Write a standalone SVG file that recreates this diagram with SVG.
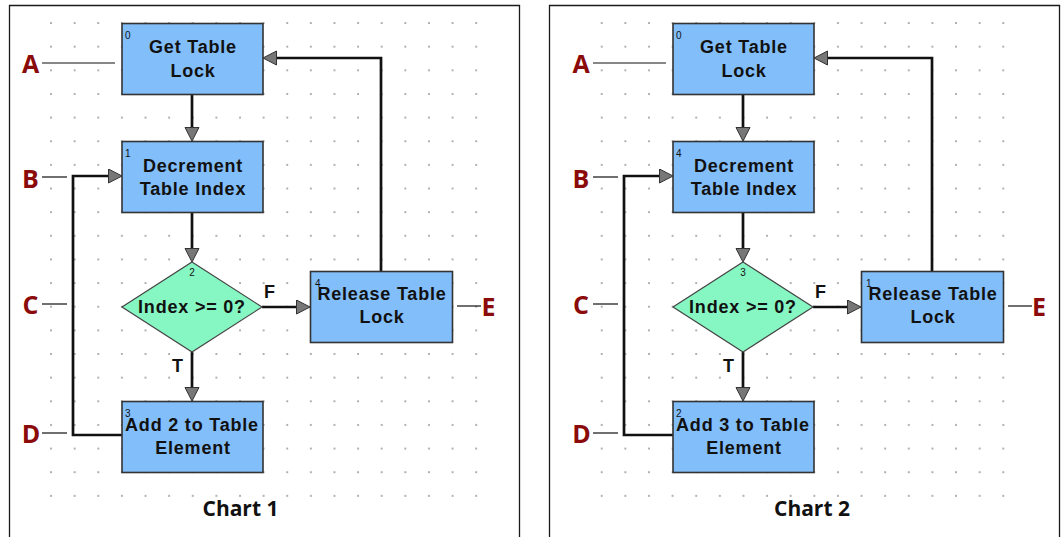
<svg xmlns="http://www.w3.org/2000/svg" width="1064" height="537" viewBox="0 0 1064 537">
<style>
.frame{fill:none;stroke:#1a1a1a;stroke-width:1.3}
.box{fill:#82BEFA;stroke:#333;stroke-width:1.6}
.dia{fill:#86F7C3;stroke:#444;stroke-width:1.2}
.nt{font-family:"Liberation Sans",Arial,sans-serif;font-weight:bold;font-size:18px;fill:#111;text-anchor:middle;letter-spacing:0.8px}
.num{font-family:"Liberation Sans",Arial,sans-serif;font-size:10px;fill:#111}
.tf{font-family:"Liberation Sans",Arial,sans-serif;font-weight:bold;font-size:18px;fill:#111}
.con{fill:none;stroke:#111;stroke-width:2.7;marker-end:url(#arr)}
.lab{font-family:"Open Sans","Noto Sans",sans-serif;font-weight:bold;font-size:25px;fill:#8B0A0A;text-anchor:middle}
.lead{stroke:#111;stroke-width:1.2}
.cap{font-family:"Open Sans","Noto Sans",sans-serif;font-weight:bold;font-size:21px;fill:#111;text-anchor:middle}
</style>
<defs>
<pattern id="dots1" patternUnits="userSpaceOnUse" x="39.2" y="11.2" width="23.62" height="23.64">
<rect x="11.1" y="11.1" width="1.5" height="1.5" fill="#777"/>
</pattern>
<pattern id="dots2" patternUnits="userSpaceOnUse" x="589.9" y="11.2" width="23.62" height="23.64">
<rect x="11.1" y="11.1" width="1.5" height="1.5" fill="#777"/>
</pattern>
<marker id="arr" markerUnits="userSpaceOnUse" markerWidth="16" markerHeight="17" refX="4" refY="7.5" orient="auto">
<path d="M0.5,0.5 L14,7.5 L0.5,14.5 Z" fill="#777" stroke="#333" stroke-width="1"/>
</marker>
</defs>
<rect width="1064" height="537" fill="#fff"/>
<!-- frames -->
<path class="frame" d="M9.5,540 V5.5 H519.5 V540"/>
<path class="frame" d="M549.5,540 V5.5 H1059.5 V540"/>
<!-- dot grids -->
<rect x="39.2" y="11.2" width="449" height="496" fill="url(#dots1)"/>
<rect x="589.9" y="11.2" width="425" height="496" fill="url(#dots2)"/>

<!-- Chart 1 connectors -->
<g id="connectors1">
<path class="con" d="M192,94 V131"/>
<path class="con" d="M192,212 V252"/>
<path class="con" d="M192,352 V391"/>
<path class="con" d="M262,307 H300"/>
<path class="con" d="M381,271 V58 H273"/>
<path class="con" d="M122,435 H73 V176 H112"/>
<text class="tf" x="172" y="372">T</text>
<text class="tf" x="264" y="298">F</text>
</g>
<g id="c1n0">
<rect class="box" x="122" y="23.5" width="141" height="71"/>
<text class="num" x="125" y="39">0</text>
<text class="nt" x="193" y="53">Get Table</text>
<text class="nt" x="193" y="77">Lock</text>
</g>
<g id="c1n1">
<rect class="box" x="122" y="141.5" width="141" height="71"/>
<text class="num" x="125" y="157">1</text>
<text class="nt" x="193" y="172">Decrement</text>
<text class="nt" x="193" y="195">Table Index</text>
</g>
<g id="c1n2">
<polygon class="dia" points="192,262 262,307 192,352 122,307"/>
<text class="num" x="192" y="276" text-anchor="middle">2</text>
<text class="nt" x="192" y="313">Index &gt;= 0?</text>
</g>
<g id="c1n3">
<rect class="box" x="122" y="401.5" width="141" height="71"/>
<text class="num" x="125" y="417">3</text>
<text class="nt" x="192" y="431">Add 2 to Table</text>
<text class="nt" x="193" y="454">Element</text>
</g>
<g id="c1n4">
<rect class="box" x="310.5" y="271.5" width="142" height="71"/>
<text class="num" x="315" y="287">4</text>
<text class="nt" x="382" y="300">Release Table</text>
<text class="nt" x="382" y="323">Lock</text>
</g>
<g id="c1labels">
<line class="lead" x1="42" y1="63" x2="115" y2="63"/>
<text class="lab" x="30.5" y="73">A</text>
<line class="lead" x1="42" y1="177" x2="67" y2="177"/>
<text class="lab" x="30.5" y="188">B</text>
<line class="lead" x1="42" y1="304" x2="67" y2="304"/>
<text class="lab" x="30.5" y="314">C</text>
<line class="lead" x1="42" y1="433" x2="67" y2="433"/>
<text class="lab" x="31" y="443">D</text>
<line class="lead" x1="457" y1="306" x2="481" y2="306"/>
<text class="lab" x="488.5" y="316">E</text>
<text class="cap" x="240.5" y="516">Chart 1</text>
</g>

<!-- Chart 2 -->
<g id="connectors2">
<path class="con" d="M743,94 V131"/>
<path class="con" d="M743,212 V252"/>
<path class="con" d="M743,352 V391"/>
<path class="con" d="M813,307 H851"/>
<path class="con" d="M932,271 V58 H824"/>
<path class="con" d="M673,435 H624 V176 H663"/>
<text class="tf" x="723" y="372">T</text>
<text class="tf" x="815" y="298">F</text>
</g>
<g id="c2n0">
<rect class="box" x="673" y="23.5" width="141" height="71"/>
<text class="num" x="676" y="39">0</text>
<text class="nt" x="744" y="53">Get Table</text>
<text class="nt" x="744" y="77">Lock</text>
</g>
<g id="c2n4">
<rect class="box" x="673" y="141.5" width="141" height="71"/>
<text class="num" x="676" y="157">4</text>
<text class="nt" x="744" y="172">Decrement</text>
<text class="nt" x="744" y="195">Table Index</text>
</g>
<g id="c2n3">
<polygon class="dia" points="743,262 813,307 743,352 673,307"/>
<text class="num" x="743" y="276" text-anchor="middle">3</text>
<text class="nt" x="743" y="313">Index &gt;= 0?</text>
</g>
<g id="c2n2">
<rect class="box" x="673" y="401.5" width="141" height="71"/>
<text class="num" x="676" y="417">2</text>
<text class="nt" x="743" y="431">Add 3 to Table</text>
<text class="nt" x="744" y="454">Element</text>
</g>
<g id="c2n1">
<rect class="box" x="861.5" y="271.5" width="142" height="71"/>
<text class="num" x="866" y="287">1</text>
<text class="nt" x="933" y="300">Release Table</text>
<text class="nt" x="933" y="323">Lock</text>
</g>
<g id="c2labels">
<line class="lead" x1="593" y1="63" x2="666" y2="63"/>
<text class="lab" x="581" y="73">A</text>
<line class="lead" x1="593" y1="177" x2="618" y2="177"/>
<text class="lab" x="581" y="188">B</text>
<line class="lead" x1="593" y1="304" x2="618" y2="304"/>
<text class="lab" x="581" y="314">C</text>
<line class="lead" x1="593" y1="433" x2="618" y2="433"/>
<text class="lab" x="581.5" y="443">D</text>
<line class="lead" x1="1008" y1="306" x2="1032" y2="306"/>
<text class="lab" x="1039" y="316">E</text>
<text class="cap" x="812" y="516">Chart 2</text>
</g>
</svg>
